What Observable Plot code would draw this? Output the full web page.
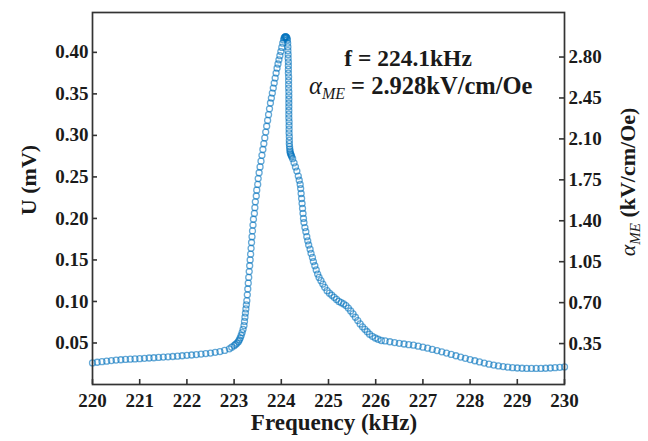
<!DOCTYPE html>
<html><head><meta charset="utf-8">
<script src="https://cdn.jsdelivr.net/npm/d3@7"></script>
<script src="https://cdn.jsdelivr.net/npm/@observablehq/plot@0.6"></script>
<style>body{margin:0;background:#fff}#chart{width:648px;height:441px}</style>
</head><body><div id="chart"></div>
<script>
// Frequency sweep (kHz) and measured voltage U (mV)
const freq = [
220.0,220.1,220.2,220.3,220.4,220.5,220.6,220.7,220.8,220.9,
221.0,221.1,221.2,221.3,221.4,221.5,221.6,221.7,221.8,221.9,
222.0,222.1,222.2,222.3,222.4,222.5,222.6,222.7,222.8,222.9,
222.95,223.00,223.03,223.06,223.09,223.11,223.13,223.15,223.17,223.19,
223.21,223.22,223.23,223.24,223.25,223.26,223.27,223.28,223.29,223.30,
223.31,223.32,223.33,223.34,223.35,223.36,223.37,223.38,223.39,223.40,
223.41,223.43,223.44,223.45,223.47,223.48,223.50,223.51,223.53,223.55,
223.57,223.59,223.61,223.63,223.65,223.67,223.69,223.71,223.73,223.75,
223.77,223.79,223.81,223.83,223.85,223.87,223.89,223.91,223.93,223.95,
223.97,223.99,224.01,224.03,224.05,224.06,224.07,224.08,224.09,224.10,
224.11,224.12,224.13,
224.135,224.140,224.140,224.145,224.145,224.150,224.150,224.150,224.150,224.155,
224.155,224.155,224.155,224.160,224.160,224.160,224.160,224.160,224.160,224.160,
224.160,224.165,224.165,224.165,224.165,224.170,224.170,224.170,224.175,224.180,
224.185,224.190,224.200,224.210,224.220,
224.24,224.27,224.30,224.33,224.36,224.38,224.40,224.41,224.42,224.43,
224.44,224.45,224.46,224.47,224.48,224.50,224.52,224.54,224.56,224.58,
224.61,224.63,224.66,224.68,224.71,224.74,224.77,224.80,224.84,224.88,
224.92,224.97,225.02,225.07,225.12,225.17,225.22,225.27,225.32,225.37,
225.42,225.47,225.52,225.57,225.62,225.67,225.72,225.77,225.82,225.87,
225.93,225.99,226.05,226.12,
226.2,226.3,226.4,226.5,226.6,226.7,226.8,226.9,227.0,227.1,
227.2,227.3,227.4,227.5,227.6,227.7,227.8,227.9,228.0,228.1,
228.2,228.3,228.4,228.5,228.6,228.7,228.8,228.9,229.0,229.1,
229.2,229.3,229.4,229.5,229.6,229.7,229.8,229.9,230.0
];
const voltage = [
.0260,.0268,.0275,.0281,.0288,.0294,.0298,.0302,.0305,.0308,
.0311,.0315,.0319,.0322,.0326,.0330,.0333,.0337,.0341,.0346,
.0351,.0355,.0360,.0366,.0372,.0379,.0387,.0397,.0410,.0430,
.0450,.0468,.0482,.0498,.0516,.0536,.0560,.0590,.0625,.0665,
.0710,.0760,.0810,.0860,.0910,.0960,.1010,.1080,.1150,.1220,
.1290,.1360,.1430,.1500,.1570,.1640,.1710,.1780,.1850,.1920,
.1990,.2060,.2130,.2200,.2270,.2340,.2410,.2480,.2550,.2620,
.2690,.2760,.2830,.2900,.2970,.3040,.3110,.3180,.3250,.3320,
.3390,.3450,.3510,.3570,.3630,.3690,.3750,.3810,.3860,.3910,
.3960,.4010,.4060,.4110,.4150,.4170,.4180,.4186,.4188,.4186,
.4180,.4170,.4150,
.4110,.4065,.4020,.3975,.3930,.3885,.3840,.3795,.3750,.3705,
.3660,.3615,.3570,.3525,.3480,.3435,.3390,.3345,.3300,.3255,
.3210,.3165,.3120,.3075,.3030,.2985,.2940,.2900,.2865,.2835,
.2810,.2790,.2775,.2760,.2745,
.2720,.2670,.2620,.2570,.2510,.2460,.2410,.2360,.2300,.2240,
.2180,.2120,.2060,.2000,.1950,.1890,.1840,.1780,.1730,.1680,
.1630,.1580,.1530,.1480,.1430,.1380,.1330,.1290,.1250,.1210,
.1170,.1130,.1100,.1075,.1050,.1025,.1000,.0985,.0970,.0950,
.0920,.0885,.0850,.0810,.0770,.0730,.0695,.0665,.0635,.0605,
.0580,.0560,.0545,.0530,
.0525,.0515,.0505,.0496,.0488,.0480,.0473,.0462,.0450,.0437,
.0423,.0408,.0393,.0378,.0362,.0346,.0330,.0315,.0300,.0286,
.0272,.0258,.0245,.0234,.0224,.0216,.0209,.0203,.0199,.0196,
.0194,.0193,.0193,.0194,.0196,.0199,.0203,.0207,.0212
];
const xTicks = [220,221,222,223,224,225,226,227,228,229,230];
const uTicks = [0.05,0.10,0.15,0.20,0.25,0.30,0.35,0.40];
const alphaTicks = [0.35,0.70,1.05,1.40,1.75,2.10,2.45,2.80];
const alphaPerU = 7.1;           // right-axis scale factor (kV/cm/Oe per mV)
const peakFreq = "224.1";
const peakAlpha = "2.928";

const data = freq.map((f, i) => ({f, u: voltage[i]}));
const serif = "'Liberation Serif','Times New Roman',Times,serif";
const alphaPos = alphaTicks.map(a => a / alphaPerU);

const W = 648, H = 441, ML = 92, MR = 84, MT = 12, MB = 57, TICK = 5;
const frameW = W - ML - MR, frameH = H - MT - MB;
const tickMark = {stroke: "#333", strokeWidth: 1.6};

const plot = Plot.plot({
  width: W, height: H,
  marginLeft: ML, marginRight: MR, marginTop: MT, marginBottom: MB,
  style: {fontFamily: serif, fontSize: "19px", fontWeight: "bold", color: "#1a1a1a", background: "#fff"},
  x: {domain: [220, 230]},
  y: {domain: [0, 0.448]},
  marks: [
    Plot.dot(data, {x: "f", y: "u", r: 3, stroke: "#0072BD", strokeOpacity: 0.6, strokeWidth: 1.3, fill: "none"}),
    // inward tick marks
    Plot.tickX(xTicks, {x: d => d, insetTop: frameH - TICK, ...tickMark}),
    Plot.tickY(uTicks, {y: d => d, insetRight: frameW - TICK, ...tickMark}),
    Plot.tickY(alphaPos, {y: d => d, insetLeft: frameW - TICK, ...tickMark}),
    Plot.frame({stroke: "#333", strokeWidth: 1.7}),
    // tick labels
    Plot.axisX({ticks: xTicks, tickSize: 0, tickPadding: 9, tickFormat: d => String(d), label: null}),
    Plot.axisY({ticks: uTicks, tickSize: 0, tickPadding: 4, tickFormat: d => d.toFixed(2), label: null}),
    Plot.axisY({anchor: "right", ticks: alphaPos, tickSize: 0, tickPadding: 4,
      tickFormat: d => (Math.round(d * alphaPerU * 100) / 100).toFixed(2), label: null})
  ]
});

const svg = d3.select(plot);
svg.append("text").attr("x", 334).attr("y", 430).attr("text-anchor", "middle")
  .style("font-size", "23px").text("Frequency (kHz)");
svg.append("text").attr("transform", "translate(28,180) rotate(-90)").attr("text-anchor", "middle")
  .attr("dy", "0.35em").style("font-size", "22px").text("U (mV)");
const rl = svg.append("text").attr("transform", "translate(635,182) rotate(-90)").attr("text-anchor", "middle")
  .style("font-size", "22px");
rl.append("tspan").style("font-style", "italic").style("font-weight", "normal").text("α");
rl.append("tspan").style("font-style", "italic").style("font-weight", "normal").style("font-size", "15px").attr("dy", 5).text("ME");
rl.append("tspan").attr("dy", -5).text(" (kV/cm/Oe)");

svg.append("text").attr("x", 408).attr("y", 66).attr("text-anchor", "middle")
  .style("font-size", "23.5px").text(`f = ${peakFreq}kHz`);
const an = svg.append("text").attr("x", 309).attr("y", 94).attr("text-anchor", "start").style("font-size", "24.5px");
an.append("tspan").style("font-style", "italic").style("font-weight", "normal").text("α");
an.append("tspan").style("font-style", "italic").style("font-weight", "normal").style("font-size", "16px").attr("dy", 5).text("ME");
an.append("tspan").attr("dy", -5).text(` = ${peakAlpha}kV/cm/Oe`);

document.getElementById("chart").appendChild(plot);
</script></body></html>
